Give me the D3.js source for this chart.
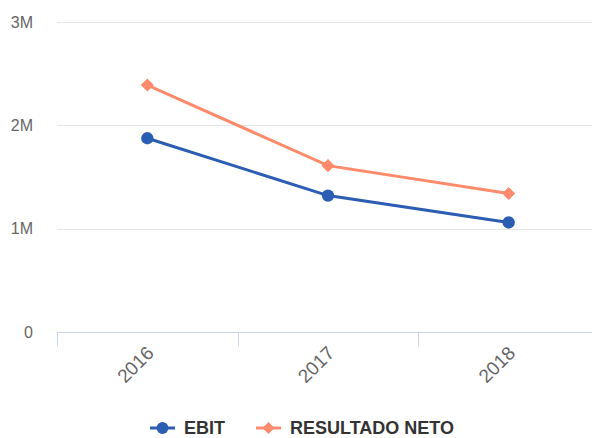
<!DOCTYPE html>
<html>
<head>
<meta charset="utf-8">
<script src="https://cdn.jsdelivr.net/npm/d3@7"></script>
<style>
	body { margin: 0; background: #fff; }
	svg { display: block; font-family: "Liberation Sans", Arial, Helvetica, sans-serif; }
</style>
</head>
<body>
<div id="chart"></div>
<script>
const years = ["2016", "2017", "2018"];
const ebit = [1875000, 1320000, 1060000];
const resultadoNeto = [2390000, 1610000, 1340000];
const yTicks = [0, 1000000, 2000000, 3000000];

const width = 592, height = 438;
const margin = { top: 22, right: -7, bottom: 106, left: 57 };

const svg = d3.select("#chart").append("svg")
	.attr("width", width)
	.attr("height", height);

const x = d3.scaleBand()
	.domain(years)
	.range([margin.left, width - margin.right]);

const y = d3.scaleLinear()
	.domain([0, 3000000])
	.range([height - margin.bottom, margin.top]);

// gridlines
svg.append("g")
	.selectAll("line")
	.data(yTicks.filter(d => d > 0))
	.join("line")
	.attr("x1", margin.left)
	.attr("x2", width)
	.attr("y1", d => Math.round(y(d)) + 0.5)
	.attr("y2", d => Math.round(y(d)) + 0.5)
	.attr("stroke", "#e6e6e6")
	.attr("stroke-width", 1);

// y labels
svg.append("g")
	.selectAll("text")
	.data(yTicks)
	.join("text")
	.attr("x", 33)
	.attr("y", d => y(d))
	.attr("dy", "0.35em")
	.attr("text-anchor", "end")
	.attr("fill", "#666")
	.style("font-size", "16px")
	.text(d => d === 0 ? "0" : d / 1000000 + "M");

// x axis line + ticks
const axisY = Math.round(y(0)) + 0.5;
svg.append("line")
	.attr("x1", margin.left)
	.attr("x2", width)
	.attr("y1", axisY)
	.attr("y2", axisY)
	.attr("stroke", "#ccd6eb");

svg.append("g")
	.selectAll("line")
	.data(years)
	.join("line")
	.attr("x1", d => Math.round(x(d)) + 0.5)
	.attr("x2", d => Math.round(x(d)) + 0.5)
	.attr("y1", axisY)
	.attr("y2", axisY + 14)
	.attr("stroke", "#ccd6eb");

svg.append("g")
	.selectAll("text")
	.data(years)
	.join("text")
	.attr("transform", d => `translate(${x(d) + x.bandwidth() / 2 + 3},${axisY + 17}) rotate(-45)`)
	.attr("text-anchor", "end")
	.attr("dy", "0.35em")
	.attr("fill", "#666")
	.style("font-size", "19px")
	.text(d => d);

// lines
const cx = d => x(d) + x.bandwidth() / 2;
const line = d3.line()
	.x((d, i) => cx(years[i]))
	.y(d => y(d));

const series = [
	{ name: "EBIT", values: ebit, color: "#2b5db3", symbol: d3.symbolCircle },
	{ name: "RESULTADO NETO", values: resultadoNeto, color: "#ff8b6c", symbol: d3.symbolDiamond2 }
];

series.forEach(s => {
	svg.append("path")
		.datum(s.values)
		.attr("d", line)
		.attr("fill", "none")
		.attr("stroke", s.color)
		.attr("stroke-width", 3);
	svg.append("g")
		.selectAll("path")
		.data(s.values)
		.join("path")
		.attr("transform", (d, i) => `translate(${cx(years[i])},${y(d)})`)
		.attr("d", d3.symbol().type(s.symbol).size(s.symbol === d3.symbolCircle ? 120 : 110))
		.attr("fill", s.color);
});

// legend
const legend = svg.append("g").attr("transform", "translate(150,428)");
const legendX = [0, 106];
series.forEach((s, i) => {
	const g = legend.append("g").attr("transform", `translate(${legendX[i]},0)`);
	g.append("line")
		.attr("x1", 0).attr("x2", 25)
		.attr("stroke", s.color)
		.attr("stroke-width", 3);
	g.append("path")
		.attr("transform", "translate(12.5,0)")
		.attr("d", d3.symbol().type(s.symbol).size(s.symbol === d3.symbolCircle ? 110 : 90))
		.attr("fill", s.color);
	g.append("text")
		.attr("x", 34)
		.attr("dy", "0.33em")
		.attr("fill", "#333")
		.style("font-size", "18px")
		.style("font-weight", "bold")
		.text(s.name);
});
</script>
</body>
</html>
